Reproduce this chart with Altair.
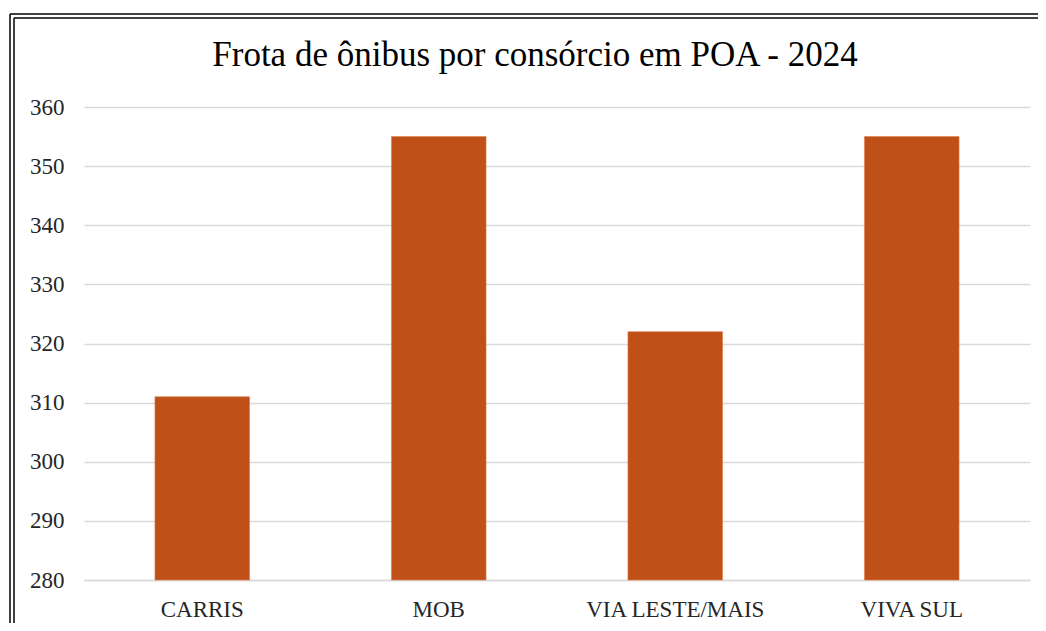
import altair as alt
import pandas as pd

categories = ["CARRIS", "MOB", "VIA LESTE/MAIS", "VIVA SUL"]
values = [311, 355, 322, 355]
y_ticks = [280, 290, 300, 310, 320, 330, 340, 350, 360]
y_base = 280
title_text = "Frota de ônibus por consórcio em POA - 2024"

df = pd.DataFrame({"consorcio": categories, "frota": values})

FONT = "'Liberation Serif', 'Times New Roman', Times, 'DejaVu Serif', serif"
BAR = "#BF5017"
GRID = "#d9d9d9"

bars = alt.Chart(df).mark_bar(color=BAR, stroke="#e07a4a", strokeWidth=0.6).encode(
    x=alt.X(
        "consorcio:N",
        sort=categories,
        title=None,
        scale=alt.Scale(paddingInner=0.6, paddingOuter=0.3),
        axis=alt.Axis(
            labelAngle=0, labelFont=FONT, labelFontSize=23, labelColor="#262626",
            labelPadding=18, ticks=False, domain=True, domainColor=GRID,
            domainWidth=1.5, grid=False,
        ),
    ),
    y=alt.Y(
        "frota:Q",
        title=None,
        scale=alt.Scale(domain=[280, 360], nice=False, zero=False),
        axis=alt.Axis(
            values=y_ticks, labelFont=FONT, labelFontSize=23, labelColor="#262626",
            labelPadding=20, ticks=False, domain=False, grid=True,
            gridColor=GRID, gridWidth=1.5,
        ),
    ),
    y2=alt.datum(y_base),
)

title_df = pd.DataFrame({"t": [title_text]})
title = alt.Chart(title_df).mark_text(
    font=FONT, fontSize=35, color="#000000", align="center", baseline="alphabetic"
).encode(text="t:N", x=alt.value(451), y=alt.value(-41))

frame_df = pd.DataFrame({"k": [0]})
frame_style = dict(color="#000000", strokeWidth=1.5)
frame = [
    alt.Chart(frame_df).mark_rule(**frame_style).encode(
        x=alt.value(-74), y=alt.value(-93), y2=alt.value(600)),
    alt.Chart(frame_df).mark_rule(**frame_style).encode(
        x=alt.value(-70), y=alt.value(-89), y2=alt.value(600)),
    alt.Chart(frame_df).mark_rule(**frame_style).encode(
        x=alt.value(-74), x2=alt.value(1000), y=alt.value(-93)),
    alt.Chart(frame_df).mark_rule(**frame_style).encode(
        x=alt.value(-70), x2=alt.value(1000), y=alt.value(-89)),
]

chart = alt.layer(bars, title, *frame).properties(
    width=946,
    height=473,
    autosize=alt.AutoSizeParams(type="none"),
    padding={"left": 76, "top": 99, "right": 8, "bottom": 43},
    view=alt.ViewBackground(stroke="transparent", strokeWidth=0),
).configure_view(strokeWidth=0, stroke="transparent").configure(background="#ffffff")

chart.save("out.html", embed_options={"renderer": "svg", "actions": False})
